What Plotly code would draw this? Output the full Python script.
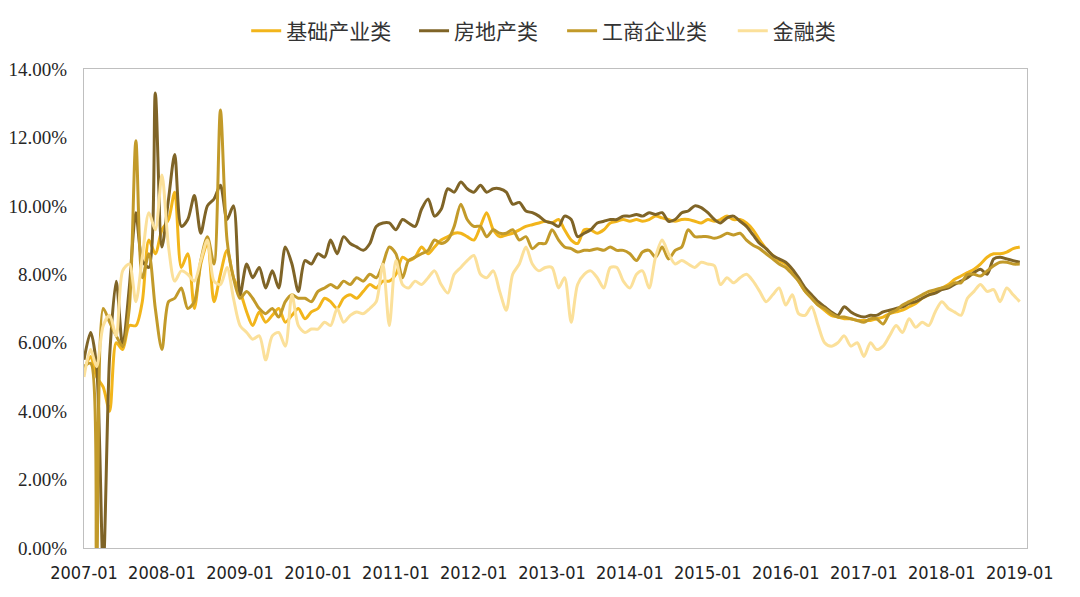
import pandas as pd
import plotly.graph_objects as go

dates = pd.date_range("2007-01-01", "2019-01-01", freq="MS")

series_names = ["基础产业类", "房地产类", "工商企业类", "金融类"]
series_colors = ["#F2B51B", "#7F6427", "#C29A2A", "#FBE09A"]

# 基础产业类 (%)
infra = [
    5.2, 5.6, 5.0, 4.7, 4.0, 6.0, 5.8, 6.5, 6.5, 7.2, 9.0, 8.6,
    9.3, 9.6, 10.4, 8.2, 8.6, 7.0, 8.3, 8.9, 7.2, 8.0, 8.7, 7.9,
    7.5, 6.9, 6.5, 6.9, 6.6, 6.8, 7.0, 6.6, 6.8, 7.0, 6.7, 6.9,
    7.0, 7.3, 7.2, 7.0, 7.3, 7.4, 7.3, 7.5, 7.7, 7.6, 7.8, 7.8,
    8.0, 8.5, 8.4, 8.5, 8.8, 8.6, 8.8, 9.0, 9.1, 9.2, 9.2, 9.1,
    9.0, 9.4, 9.8, 9.3, 9.1, 9.15, 9.2, 9.3, 9.4, 9.45, 9.5, 9.55,
    9.5, 9.6, 9.3, 9.0, 8.9, 9.3, 9.3, 9.2, 9.3, 9.5, 9.55, 9.6,
    9.55, 9.6, 9.55, 9.6, 9.7, 9.65, 9.6, 9.55, 9.6, 9.6, 9.55, 9.5,
    9.6, 9.55, 9.6, 9.7, 9.6, 9.6, 9.5, 9.3, 9.0, 8.75, 8.55, 8.4,
    8.3, 8.1, 7.8, 7.5, 7.3, 7.1, 6.95, 6.8, 6.75, 6.7, 6.7, 6.65,
    6.65, 6.65, 6.7, 6.75, 6.85, 6.9, 6.95, 7.05, 7.15, 7.3, 7.4, 7.5,
    7.6, 7.7, 7.85, 7.95, 8.05, 8.15, 8.3, 8.5, 8.6, 8.6, 8.65, 8.75,
    8.8,
]

# 房地产类 (%)
realestate = [
    5.5, 6.3, 5.3, -0.6, 5.6, 7.8, 5.9, 7.6, 9.8, 8.4, 8.2, 13.3,
    8.8, 10.2, 11.5, 9.4, 9.6, 10.3, 9.2, 10.0, 10.2, 10.6, 9.6, 10.0,
    7.4, 8.3, 7.9, 8.2, 7.6, 8.1, 7.6, 8.8, 8.3, 7.5, 8.4, 8.3,
    8.6, 8.5, 9.0, 8.6, 9.1, 8.9, 8.8, 8.7, 8.9, 9.4, 9.5, 9.5,
    9.3, 9.6, 9.5, 9.4, 9.9, 10.2, 9.7, 9.9, 10.5, 10.4, 10.7, 10.5,
    10.4, 10.6, 10.4, 10.5, 10.5, 10.4, 10.05, 10.1, 9.85, 9.8, 9.7, 9.55,
    9.5, 9.4, 9.7, 9.6, 9.1, 9.2, 9.3, 9.5, 9.55, 9.6, 9.6, 9.7,
    9.7, 9.75, 9.7, 9.8, 9.75, 9.8, 9.55, 9.6, 9.8, 9.85, 10.0, 9.95,
    9.8, 9.6, 9.5, 9.65, 9.7, 9.55, 9.4, 9.15, 8.9, 8.75, 8.55, 8.45,
    8.35, 8.15, 7.9, 7.6, 7.4, 7.2, 7.05, 6.9, 6.8, 7.05, 6.9, 6.8,
    6.75, 6.8, 6.8, 6.9, 6.95, 7.0, 7.05, 7.15, 7.2, 7.3, 7.4, 7.45,
    7.55, 7.6, 7.7, 7.8, 7.9, 8.05, 8.15, 8.0, 8.45, 8.5, 8.45, 8.4,
    8.35,
]

# 工商企业类 (%)
industrial = [
    5.3, 5.4, -0.6, 7.0, 6.6, 6.2, 5.9, 7.0, 11.9, 7.9, 8.6, 7.0,
    5.8, 7.2, 7.3, 7.6, 7.0, 7.2, 8.4, 9.1, 8.3, 12.8, 9.0, 7.9,
    7.3, 7.5, 7.3, 7.0, 6.85, 7.0, 6.75, 7.2, 7.4, 7.3, 7.3, 7.2,
    7.5, 7.6, 7.7, 7.6, 7.8, 7.7, 7.9, 7.8, 8.0, 7.9, 8.3, 8.8,
    8.6, 7.9, 8.4, 8.5, 8.6, 8.7, 9.0, 8.9, 9.0, 9.4, 10.05, 9.6,
    9.4, 9.4, 9.1, 9.3, 9.2, 9.2, 9.3, 9.0, 9.1, 8.75, 8.9, 8.9,
    9.3, 9.0, 8.8, 8.75, 8.65, 8.7, 8.7, 8.75, 8.7, 8.8, 8.7, 8.7,
    8.6, 8.4, 8.65, 8.7, 8.5, 8.8, 8.45, 8.7, 8.8, 9.3, 9.1, 9.1,
    9.1, 9.05, 9.1, 9.2, 9.15, 9.2, 9.0, 8.85, 8.75, 8.6, 8.45, 8.3,
    8.2, 8.0, 7.8, 7.5, 7.3, 7.1, 7.0, 6.85, 6.75, 6.75, 6.7, 6.65,
    6.6, 6.7, 6.7, 6.55, 6.85, 6.95, 7.1, 7.2, 7.3, 7.4, 7.5, 7.55,
    7.6, 7.65, 7.75, 7.75, 8.0, 8.0, 7.95, 8.1, 8.25, 8.35, 8.35, 8.3,
    8.3,
]

# 金融类 (%)
financial = [
    5.0, 5.8, 5.3, 6.5, 6.8, 6.2, 8.1, 8.3, 7.2, 8.5, 9.8, 9.3,
    10.9, 8.8, 7.8, 8.1, 8.0, 7.8, 8.4, 9.0, 7.8, 7.7, 8.2, 7.3,
    6.5, 6.3, 6.1, 6.2, 5.5, 6.2, 6.3, 5.9, 7.4, 6.5, 6.3, 6.4,
    6.4, 6.6, 6.5, 7.0, 6.6, 6.8, 6.9, 6.85, 7.0, 7.2, 8.3, 6.5,
    8.4, 7.7, 7.6, 7.8, 7.7, 7.9, 8.1, 7.7, 7.45, 8.0, 8.2, 8.4,
    8.55, 8.0, 7.9, 8.1, 7.5, 6.95, 8.0, 8.3, 8.8, 8.3, 8.1, 8.2,
    8.2, 7.6, 7.9, 6.6, 7.7, 8.0, 8.1, 7.9, 7.6, 8.2, 8.2, 7.8,
    7.6, 8.0, 8.1, 7.6, 8.5, 9.0, 8.6, 8.3, 8.4, 8.3, 8.2, 8.35,
    8.3, 8.25, 7.7, 7.9, 7.75, 7.9, 8.0, 7.8, 7.5, 7.2, 7.4, 7.6,
    7.1, 7.4, 6.85, 6.8, 7.05, 6.5, 6.0, 5.9, 6.0, 6.2, 5.9, 6.0,
    5.6, 6.0, 5.8, 5.9, 6.2, 6.5, 6.3, 6.7, 6.45, 6.6, 6.5, 6.9,
    7.2, 7.0, 6.9, 6.8, 7.3, 7.5, 7.7, 7.5, 7.55, 7.2, 7.6, 7.4,
    7.2,
]

y_tick_vals = [0, 2, 4, 6, 8, 10, 12, 14]
y_tick_text = ["0.00%", "2.00%", "4.00%", "6.00%", "8.00%", "10.00%", "12.00%", "14.00%"]

# legend entry left positions (paper fraction of plot width)
legend_ids = ["legend", "legend2", "legend3", "legend4"]
legend_x = [0.172, 0.350, 0.507, 0.688]

fig = go.Figure()
for name, color, vals, lid in zip(series_names, series_colors,
                                  [infra, realestate, industrial, financial], legend_ids):
    fig.add_trace(go.Scatter(
        x=dates, y=vals, name=name, mode="lines", legend=lid,
        line=dict(color=color, width=3, shape="spline", smoothing=0.8),
    ))

legend_font = dict(family="Noto Sans CJK SC", size=21, color="#333333")
layout_legends = {}
for lid, lx in zip(legend_ids, legend_x):
    layout_legends[lid] = dict(
        orientation="h", x=lx, xanchor="left", y=1.077, yanchor="middle",
        font=legend_font, bgcolor="rgba(0,0,0,0)", itemwidth=30,
    )

fig.update_layout(
    width=1080, height=597,
    margin=dict(l=84, r=53, t=68, b=49),
    paper_bgcolor="white", plot_bgcolor="white",
    showlegend=True,
    **layout_legends,
)
fig.update_xaxes(
    type="date", automargin=False,
    range=["2007-01-01", "2019-02-04"],
    tick0="2007-01-01", dtick="M12", tickformat="%Y-%m",
    showgrid=False, zeroline=False,
    showline=True, linecolor="#BFBFBF", linewidth=1, mirror=True,
    ticks="", ticklabelstandoff=8,
    tickfont=dict(family="Liberation Sans Narrow, DejaVu Sans Condensed, sans-serif", size=18, color="#222222"),
)
fig.update_yaxes(
    automargin=False,
    range=[0, 14],
    tickvals=y_tick_vals, ticktext=y_tick_text,
    showgrid=False, zeroline=False,
    showline=True, linecolor="#BFBFBF", linewidth=1, mirror=True,
    ticks="", ticklabelstandoff=12,
    tickfont=dict(family="Liberation Serif, serif", size=19, color="#262626"),
)

fig.write_html("out.html")
